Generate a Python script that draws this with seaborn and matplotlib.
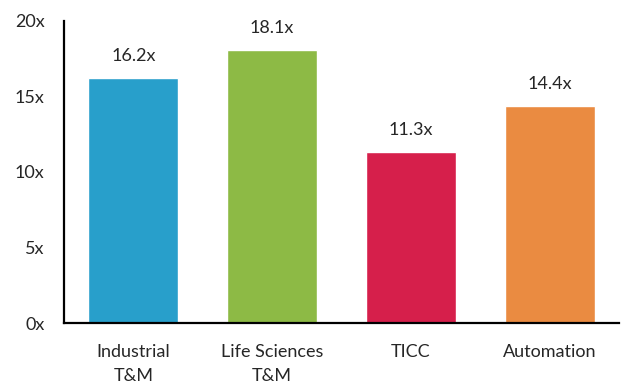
import matplotlib
matplotlib.use("Agg")
import matplotlib.pyplot as plt
import seaborn as sns
import pandas as pd

categories = ["Industrial\nT&M", "Life Sciences\nT&M", "TICC", "Automation"]
multiples = [16.2, 18.1, 11.3, 14.4]
bar_colors = ["#289FCB", "#8DBA45", "#D61F4B", "#EA8B41"]
y_ticks = [0, 5, 10, 15, 20]
y_tick_labels = ["0x", "5x", "10x", "15x", "20x"]

sns.set_style("white")
plt.rcParams["font.family"] = ["Lato", "DejaVu Sans"]

df = pd.DataFrame({"segment": categories, "multiple": multiples})

fig = plt.figure(figsize=(6.29, 3.85), dpi=100)
ax = fig.add_axes([64 / 629, 62 / 385, 555 / 629, 302 / 385])

sns.barplot(data=df, x="segment", y="multiple", hue="segment",
            palette=bar_colors, width=0.65, saturation=1, legend=False, ax=ax)

for patch, val in zip(ax.patches, multiples):
    ax.annotate(f"{val:.1f}x",
                xy=(patch.get_x() + patch.get_width() / 2, val),
                xytext=(0, 10), textcoords="offset points",
                ha="center", va="bottom", fontsize=13, color="#262626")

ax.set_xlim(-0.5, 3.5)
ax.set_ylim(0, 20)
ax.set_yticks(y_ticks)
ax.set_yticklabels(y_tick_labels)
ax.set_xlabel("")
ax.set_ylabel("")
ax.tick_params(axis="both", length=0, labelsize=13, labelcolor="#262626")
ax.tick_params(axis="y", pad=14)
ax.tick_params(axis="x", pad=15)
for lbl in ax.get_xticklabels():
    lbl.set_linespacing(1.6)

for side in ["top", "right"]:
    ax.spines[side].set_visible(False)
for side in ["left", "bottom"]:
    ax.spines[side].set_color("black")
    ax.spines[side].set_linewidth(1.6)

fig.savefig("out.png", dpi=100)
